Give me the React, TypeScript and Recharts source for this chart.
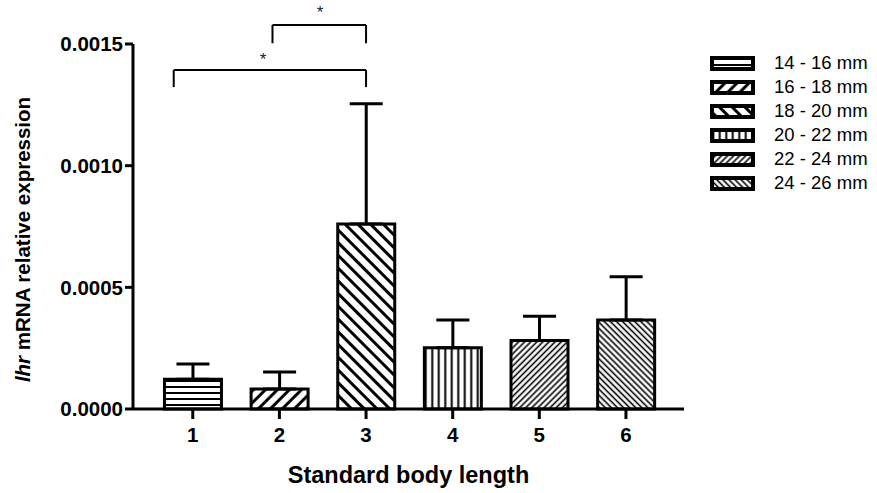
import React from "react";
import {
  BarChart,
  Bar,
  XAxis,
  YAxis,
  Cell,
  ErrorBar,
  ReferenceLine,
  ReferenceDot,
} from "recharts";

const groups = [1, 2, 3, 4, 5, 6];
const sizeRanges = [
  "14 - 16 mm",
  "16 - 18 mm",
  "18 - 20 mm",
  "20 - 22 mm",
  "22 - 24 mm",
  "24 - 26 mm",
];
const meanExpression = [0.000122, 0.000082, 0.00076, 0.000252, 0.000281, 0.000366];
const semExpression = [0.000063, 0.00007, 0.000494, 0.000114, 0.0001, 0.000177];
const yTicks = [0, 0.0005, 0.001, 0.0015];

// significance brackets: from group, to group, bar height, leg drop
const brackets = [
  { from: 0.78, to: 3, y: 0.001393, drop: 0.00007, starX: 1.81, starY: 0.00144 },
  { from: 1.92, to: 3, y: 0.001578, drop: 0.000075, starX: 2.47, starY: 0.001632 },
];

const data = groups.map((g, i) => ({
  group: g,
  range: sizeRanges[i],
  value: meanExpression[i],
  err: [0, semExpression[i]],
}));

const FONT = "Arial, 'Liberation Sans', Helvetica, sans-serif";

// hatch definitions (spacing, angle, stroke width)
const hatches = [
  { size: 6, angle: 90, w: 2 }, // horizontal
  { size: 8.5, angle: 45, w: 3 }, // "/" wide
  { size: 9, angle: -45, w: 3 }, // "\" wide
  { size: 6.5, angle: 0, w: 2 }, // vertical
  { size: 4.3, angle: 45, w: 1.6 }, // "/" fine
  { size: 4.3, angle: -45, w: 1.6 }, // "\" fine
];

function HatchDefs({ prefix }: { prefix: string }) {
  return (
    <defs>
      {hatches.map((h, i) => (
        <pattern
          key={i}
          id={`${prefix}${i}`}
          patternUnits="userSpaceOnUse"
          width={h.size}
          height={h.size}
          patternTransform={`rotate(${h.angle})`}
        >
          <rect width={h.size} height={h.size} fill="#fff" />
          <line
            x1={h.size / 2}
            y1={0}
            x2={h.size / 2}
            y2={h.size}
            stroke="#000"
            strokeWidth={h.w}
          />
        </pattern>
      ))}
    </defs>
  );
}

function LegendBox() {
  return (
    <div
      style={{
        position: "absolute",
        left: 710,
        top: 51,
        fontFamily: FONT,
        fontSize: 18.5,
        color: "#000",
      }}
    >
      {sizeRanges.map((r, i) => (
        <div
          key={r}
          style={{ display: "flex", alignItems: "center", height: 24 }}
        >
          <svg width={45} height={15} style={{ marginRight: 19 }}>
            <HatchDefs prefix={`lg${i}-`} />
            <rect
              x={2}
              y={2}
              width={41}
              height={11}
              fill={`url(#lg${i}-${i})`}
              stroke="#000"
              strokeWidth={4}
            />
          </svg>
          <span>{r}</span>
        </div>
      ))}
    </div>
  );
}

function YTitle(props: any) {
  const vb = props.viewBox;
  const cy = vb.y + vb.height / 2 + 13;
  return (
    <text
      x={22}
      y={cy}
      transform={`rotate(-90, 22, ${cy})`}
      textAnchor="middle"
      dominantBaseline="central"
      fontFamily={FONT}
      fontSize={20.5}
      fontWeight="bold"
      fill="#000"
    >
      <tspan fontStyle="italic">lhr</tspan>
      <tspan> mRNA relative expression</tspan>
    </text>
  );
}

export default function App() {
  return (
    <div style={{ position: "absolute", left: 0, top: 0, width: 877, height: 493, background: "#fff" }}>
      <BarChart
        width={877}
        height={493}
        data={data}
        margin={{ top: 44, right: 193, bottom: 0, left: 0 }}
      >
        <HatchDefs prefix="bar" />
        <XAxis
          dataKey="group"
          type="number"
          domain={[0.31, 6.67]}
          ticks={groups}
          allowDataOverflow
          height={84}
          axisLine={{ stroke: "#000", strokeWidth: 3 }}
          tickLine={{ stroke: "#000", strokeWidth: 3 }}
          tickSize={10}
          tickMargin={8}
          tick={{ fill: "#000", fontSize: 20.5, fontWeight: "bold", fontFamily: FONT }}
          label={{
            value: "Standard body length",
            position: "insideBottom",
            offset: 10,
            fill: "#000",
            fontSize: 23.5,
            fontWeight: "bold",
            fontFamily: FONT,
          }}
        />
        <YAxis
          type="number"
          domain={[0, 0.0015]}
          ticks={yTicks}
          width={133}
          axisLine={{ stroke: "#000", strokeWidth: 3 }}
          tickLine={{ stroke: "#000", strokeWidth: 3 }}
          tickSize={8}
          tickMargin={2}
          tickFormatter={(v: number) => v.toFixed(4)}
          tick={{ fill: "#000", fontSize: 20.5, fontWeight: "bold", fontFamily: FONT }}
          label={{ content: YTitle }}
        />
        <Bar
          dataKey="value"
          barSize={57}
          stroke="#000"
          strokeWidth={3}
          isAnimationActive={false}
        >
          {data.map((d, i) => (
            <Cell key={`cell-${i}`} fill={`url(#bar${i})`} />
          ))}
          <ErrorBar
            dataKey="err"
            direction="y"
            width={16.5}
            stroke="#000"
            strokeWidth={3}
            isAnimationActive={false}
          />
        </Bar>
        {brackets.map((b, i) => (
          <ReferenceLine
            key={`bt-${i}`}
            segment={[
              { x: b.from, y: b.y },
              { x: b.to, y: b.y },
            ]}
            stroke="#000"
            strokeWidth={2}
            ifOverflow="visible"
          />
        ))}
        {brackets.map((b, i) => (
          <ReferenceLine
            key={`bl-${i}`}
            segment={[
              { x: b.from, y: b.y },
              { x: b.from, y: b.y - b.drop },
            ]}
            stroke="#000"
            strokeWidth={2}
            ifOverflow="visible"
          />
        ))}
        {brackets.map((b, i) => (
          <ReferenceLine
            key={`br-${i}`}
            segment={[
              { x: b.to, y: b.y },
              { x: b.to, y: b.y - b.drop },
            ]}
            stroke="#000"
            strokeWidth={2}
            ifOverflow="visible"
          />
        ))}
        {brackets.map((b, i) => (
          <ReferenceDot
            key={`st-${i}`}
            x={b.starX}
            y={b.starY}
            r={0}
            ifOverflow="visible"
            label={{
              value: "*",
              position: "center",
              fill: "#223",
              fontSize: 17,
              fontFamily: FONT,
            }}
          />
        ))}
      </BarChart>
      <LegendBox />
    </div>
  );
}
